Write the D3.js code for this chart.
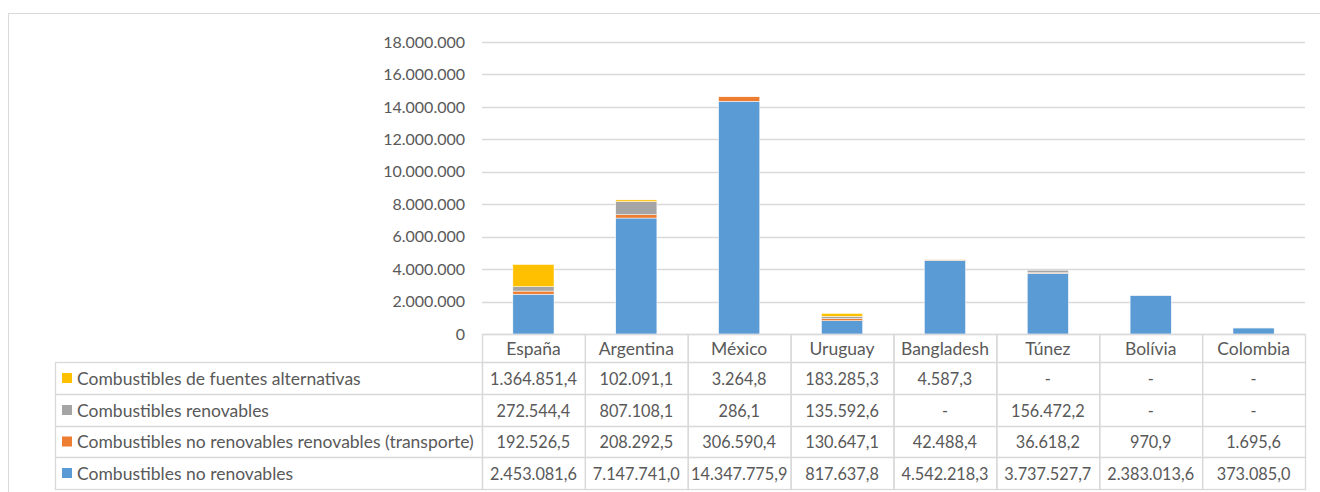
<!DOCTYPE html>
<html>
<head>
<meta charset="utf-8">
<script src="https://cdn.jsdelivr.net/npm/d3@7"></script>
<style>
  html, body { margin: 0; padding: 0; background: #ffffff; }
  svg { display: block; }
  text { font-family: Lato, "Open Sans", sans-serif; fill: #595959; }
</style>
</head>
<body>
<svg id="chart" width="1320" height="492"></svg>
<script>
const categories = ["España", "Argentina", "México", "Uruguay", "Bangladesh", "Túnez", "Bolívia", "Colombia"];
const seriesNames = [
  "Combustibles no renovables",
  "Combustibles no renovables renovables (transporte)",
  "Combustibles renovables",
  "Combustibles de fuentes alternativas"
];
const seriesColors = ["#5B9BD5", "#ED7D31", "#A5A5A5", "#FFC000"];
const noRenovables = [2453081.6, 7147741.0, 14347775.9, 817637.8, 4542218.3, 3737527.7, 2383013.6, 373085.0];
const noRenovTransporte = [192526.5, 208292.5, 306590.4, 130647.1, 42488.4, 36618.2, 970.9, 1695.6];
const renovables = [272544.4, 807108.1, 286.1, 135592.6, null, 156472.2, null, null];
const alternativas = [1364851.4, 102091.1, 3264.8, 183285.3, 4587.3, null, null, null];
const tickValues = [0, 2000000, 4000000, 6000000, 8000000, 10000000, 12000000, 14000000, 16000000, 18000000];

const seriesValues = [noRenovables, noRenovTransporte, renovables, alternativas];

const locale = d3.formatLocale({ decimal: ",", thousands: ".", grouping: [3], currency: ["", ""] });
const fmtTick = locale.format(",.0f");
const fmtVal = locale.format(",.1f");

const svg = d3.select("#chart");
const grid = "#d9d9d9";

// outer chart border
svg.append("rect").attr("x", 8.5).attr("y", 13.5).attr("width", 1330).attr("height", 500)
  .attr("fill", "none").attr("stroke", grid).attr("stroke-width", 1);

const plotLeft = 482, plotRight = 1305, plotTop = 42, plotBottom = 334;
const x = d3.scaleBand().domain(categories).range([plotLeft, plotRight]).paddingInner(0.6).paddingOuter(0.3);
const y = d3.scaleLinear().domain([0, 18000000]).range([plotBottom, plotTop]);

// gridlines
svg.append("g").selectAll("line").data(tickValues).join("line")
  .attr("x1", plotLeft).attr("x2", plotRight)
  .attr("y1", d => Math.round(y(d)) + 0.5).attr("y2", d => Math.round(y(d)) + 0.5)
  .attr("stroke", grid).attr("stroke-width", 1.3);

// y axis
const yAxis = d3.axisLeft(y).tickValues(tickValues).tickFormat(fmtTick).tickSize(0).tickPadding(17);
const ya = svg.append("g").attr("transform", `translate(${plotLeft},0)`).call(yAxis);
ya.select(".domain").remove();
ya.selectAll("text").style("font-family", "Lato, 'Open Sans', sans-serif").style("font-size", "16px").attr("fill", "#595959");

// stacked data
const rows = categories.map((c, i) => {
  const o = { cat: c };
  seriesNames.forEach((s, k) => { o[s] = seriesValues[k][i] || 0; });
  return o;
});
const stack = d3.stack().keys(seriesNames)(rows);

svg.append("g").selectAll("g").data(stack).join("g")
  .attr("fill", (d, k) => seriesColors[k])
  .selectAll("rect").data(d => d).join("rect")
  .attr("x", d => x(d.data.cat))
  .attr("width", x.bandwidth())
  .attr("y", d => y(d[1]))
  .attr("height", d => Math.max(0, y(d[0]) - y(d[1])))
  .attr("stroke", "#ffffff").attr("stroke-width", 0.5);

// data table
const step = x.step();
const headerTop = plotBottom, headerBottom = 362;
const rowLines = [362, 394, 426, 457, 489];
const tableLeft = 55;
const tg = svg.append("g");

// header cells
categories.forEach((c, i) => {
  const x0 = plotLeft + i * step;
  tg.append("rect").attr("x", x0 + 0.5).attr("y", headerTop + 0.5).attr("width", step).attr("height", headerBottom - headerTop)
    .attr("fill", "none").attr("stroke", grid).attr("stroke-width", 1.3);
  tg.append("text").attr("x", x0 + step / 2).attr("y", (headerTop + headerBottom) / 2)
    .attr("text-anchor", "middle").attr("dominant-baseline", "central")
    .style("font-size", "17.5px").text(c);
});

const tableOrder = [3, 2, 1, 0];
tableOrder.forEach((k, r) => {
  const y0 = rowLines[r], y1 = rowLines[r + 1];
  const cy = (y0 + y1) / 2;
  tg.append("rect").attr("x", tableLeft + 0.5).attr("y", y0 + 0.5).attr("width", plotLeft - tableLeft).attr("height", y1 - y0)
    .attr("fill", "none").attr("stroke", grid).attr("stroke-width", 1.3);
  tg.append("rect").attr("x", 62).attr("y", cy - 5).attr("width", 10).attr("height", 10).attr("fill", seriesColors[k]);
  tg.append("text").attr("x", 77).attr("y", cy).attr("dominant-baseline", "central")
    .style("font-size", "17.5px").text(seriesNames[k]);
  categories.forEach((c, i) => {
    const x0 = plotLeft + i * step;
    tg.append("rect").attr("x", x0 + 0.5).attr("y", y0 + 0.5).attr("width", step).attr("height", y1 - y0)
      .attr("fill", "none").attr("stroke", grid).attr("stroke-width", 1.3);
    const v = seriesValues[k][i];
    tg.append("text").attr("x", x0 + step / 2).attr("y", cy)
      .attr("text-anchor", "middle").attr("dominant-baseline", "central")
      .style("font-size", "16.3px").text(v == null ? "-" : fmtVal(v));
  });
});
</script>
</body>
</html>
